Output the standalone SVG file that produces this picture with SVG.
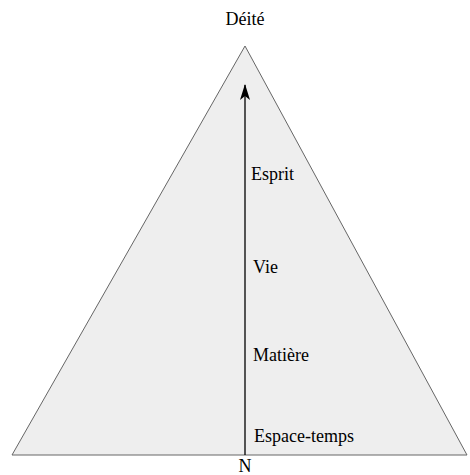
<svg xmlns="http://www.w3.org/2000/svg" width="470" height="475" viewBox="0 0 470 475">
<style>
text{font-family:"Liberation Serif","Times New Roman",serif;font-size:18px;fill:#000}
</style>
<defs>
<marker id="ah" markerWidth="16" markerHeight="10" refX="15" refY="5" orient="auto" markerUnits="userSpaceOnUse" viewBox="0 0 16 10">
<path d="M0,0 L16,5 L0,10 L4,5 Z" fill="#000"/>
</marker>
</defs>
<rect width="470" height="475" fill="#fff"/>
<g id="pyramid">
<polygon points="245,46 12,455 467,455" fill="#eeeeee" stroke="#666" stroke-width="1"/>
</g>
<g id="connectors">
<line x1="245" y1="455" x2="245" y2="85" stroke="#000" stroke-width="1.3" marker-end="url(#ah)"/>
</g>
<g id="labels">
<text x="245" y="25" text-anchor="middle">Déité</text>
<text x="251" y="180">Esprit</text>
<text x="253" y="273">Vie</text>
<text x="253" y="361">Matière</text>
<text x="254" y="442">Espace-temps</text>
<text x="245" y="472" text-anchor="middle">N</text>
</g>
</svg>
